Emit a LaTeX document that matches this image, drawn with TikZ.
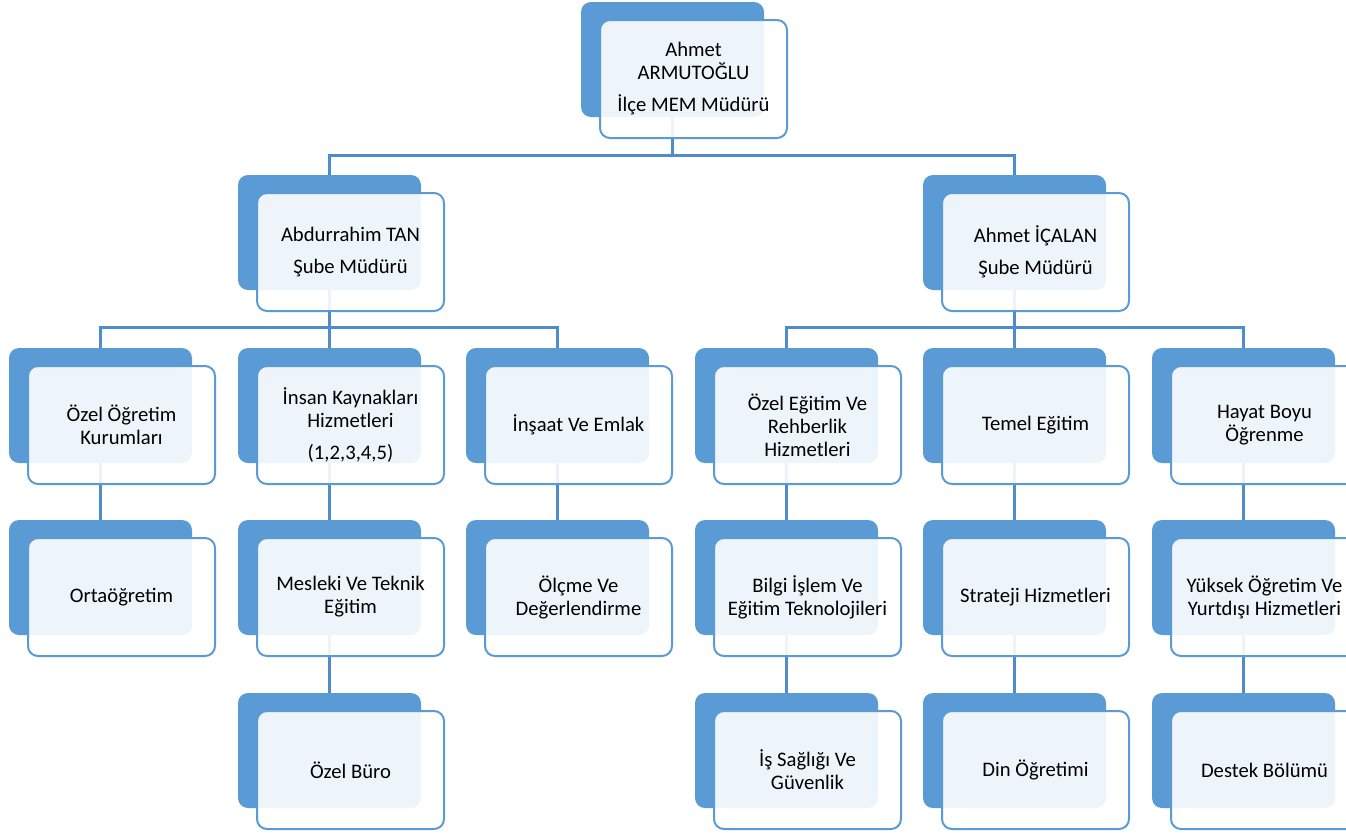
\documentclass[tikz,border=0pt]{standalone}
\usepackage{fontspec}
\setmainfont{Carlito}
\pgfdeclarelayer{bg}
\pgfdeclarelayer{mid}
\pgfsetlayers{bg,mid,main}
\definecolor{backblue}{HTML}{5B9BD5}
\definecolor{connblue}{HTML}{4E8CCB}
\tikzset{
  backbox/.style={rectangle, rounded corners=7.5pt, fill=backblue, draw=none,
    minimum width=137.25pt, minimum height=86.25pt, inner sep=0pt},
  frontbox/.style={rectangle, rounded corners=7.5pt, draw=backblue, line width=1.5pt,
    fill=white, fill opacity=0.9, text opacity=1,
    minimum width=140.25pt, minimum height=88.5pt, inner sep=0pt, align=center,
    font=\fontsize{15.5}{17.25}\selectfont},
  conn/.style={draw=connblue, line width=2.25pt},
}
\newcommand\orgunit[4]{%
  \begin{pgfonlayer}{bg}
    \node[backbox] (b#1) at ({#2+91.5},{#3+57.5}) {};
  \end{pgfonlayer}
  \node[frontbox] (f#1) at ({#2+19+93.5},{#3+18+59}) {#4};
}
\begin{document}
\begin{tikzpicture}[x=0.75pt,y=-0.75pt]
\useasboundingbox (0,0) rectangle (1346,833);
\clip (0,0) rectangle (1346,833);
% top
\orgunit{0}{581}{2}{Ahmet\\ARMUTOĞLU\\[6.75pt]İlçe MEM Müdürü}
% level 1
\orgunit{A}{238}{175}{Abdurrahim TAN\\[6.75pt]Şube Müdürü}
\orgunit{B}{923}{175}{Ahmet İÇALAN\\[6.75pt]Şube Müdürü}
% level 2
\orgunit{A1}{9}{348}{Özel Öğretim\\Kurumları}
\orgunit{A2}{238}{348}{İnsan Kaynakları\\Hizmetleri\\[6.75pt](1,2,3,4,5)}
\orgunit{A3}{466}{348}{İnşaat Ve Emlak}
\orgunit{B1}{695}{348}{Özel Eğitim Ve\\Rehberlik\\Hizmetleri}
\orgunit{B2}{923}{348}{Temel Eğitim}
\orgunit{B3}{1152}{348}{Hayat Boyu\\Öğrenme}
% level 3
\orgunit{A1a}{9}{520}{Ortaöğretim}
\orgunit{A2a}{238}{520}{Mesleki Ve Teknik\\Eğitim}
\orgunit{A3a}{466}{520}{Ölçme Ve\\Değerlendirme}
\orgunit{B1a}{695}{520}{Bilgi İşlem Ve\\Eğitim Teknolojileri}
\orgunit{B2a}{923}{520}{Strateji Hizmetleri}
\orgunit{B3a}{1152}{520}{Yüksek Öğretim Ve\\Yurtdışı Hizmetleri}
% level 4
\orgunit{A2b}{238}{693}{Özel Büro}
\orgunit{B1b}{695}{693}{İş Sağlığı Ve\\Güvenlik}
\orgunit{B2b}{923}{693}{Din Öğretimi}
\orgunit{B3b}{1152}{693}{Destek Bölümü}
% connectors
\begin{pgfonlayer}{mid}
\coordinate (j0) at (672.5,155);
\coordinate (jA) at (329.5,327);
\coordinate (jB) at (1014.5,327);
\draw[conn] (b0.south) -- (j0);
\draw[conn] (bA.north) |- (j0);
\draw[conn] (bB.north) |- (j0);
\draw[conn] (bA.south) -- (jA);
\draw[conn] (bA1.north) |- (jA);
\draw[conn] (bA2.north) -- (jA);
\draw[conn] (bA3.north) |- (jA);
\draw[conn] (bB.south) -- (jB);
\draw[conn] (bB1.north) |- (jB);
\draw[conn] (bB2.north) -- (jB);
\draw[conn] (bB3.north) |- (jB);
\draw[conn] (bA1.south) -- (bA1a.north);
\draw[conn] (bA2.south) -- (bA2a.north);
\draw[conn] (bA3.south) -- (bA3a.north);
\draw[conn] (bB1.south) -- (bB1a.north);
\draw[conn] (bB2.south) -- (bB2a.north);
\draw[conn] (bB3.south) -- (bB3a.north);
\draw[conn] (bA2a.south) -- (bA2b.north);
\draw[conn] (bB1a.south) -- (bB1b.north);
\draw[conn] (bB2a.south) -- (bB2b.north);
\draw[conn] (bB3a.south) -- (bB3b.north);
\end{pgfonlayer}
\end{tikzpicture}
\end{document}
